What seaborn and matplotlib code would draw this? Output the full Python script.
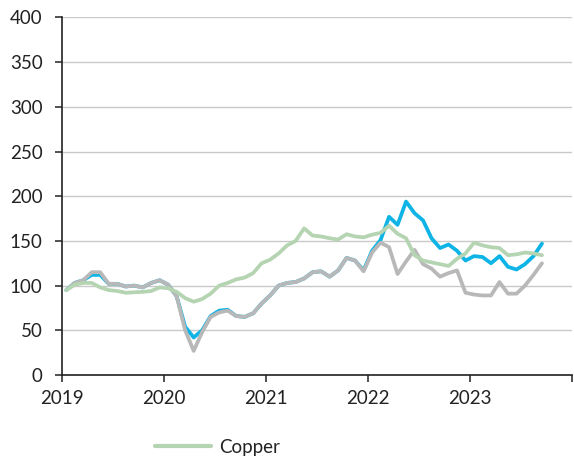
import numpy as np
import pandas as pd
import matplotlib
matplotlib.use("Agg")
import matplotlib.pyplot as plt
import seaborn as sns
from matplotlib.lines import Line2D

start_year = 2019
years = [2019, 2020, 2021, 2022, 2023]
series_names = ["Series A", "Series B", "Copper"]

series_a = [95, 103, 106, 112, 112, 102, 102, 99, 100, 98, 103, 106, 101, 88, 54, 42, 50, 66, 72, 73,
            66, 65, 69, 80, 89, 100, 103, 104, 108, 115, 116, 110, 117, 131, 128, 117, 139, 151, 177, 168,
            194, 181, 173, 153, 142, 146, 139, 128, 133, 132, 125, 133, 121, 118, 124, 133, 147]
series_b = [95, 103, 106, 115, 115, 102, 102, 99, 100, 98, 103, 106, 101, 88, 50, 27, 48, 65, 70, 72,
            66, 65, 69, 80, 89, 100, 103, 104, 108, 115, 116, 110, 117, 131, 128, 116, 137, 148, 143, 113,
            127, 140, 124, 119, 110, 114, 117, 92, 90, 89, 89, 104, 91, 91, 100, 112, 125]
copper = [95, 101, 103, 103, 98, 95, 94, 92, 92.5, 93, 94, 98, 97, 93, 86, 82, 85, 91, 100, 103,
          107, 109, 114, 125, 129, 136, 145, 150, 164, 156, 155, 153, 151.5, 157.5, 155, 154, 157, 159, 167, 158,
          153, 134, 128, 126, 124, 122, 130, 136, 148, 145, 143, 142, 134, 135, 137, 136, 134]

colors = ["#0fb4e6", "#b8b8b8", "#b4d4b2"]

n = len(copper)
t = [start_year + (i + 0.5) / 12 for i in range(n)]
df = pd.DataFrame({
    "t": t * 3,
    "value": series_a + series_b + copper,
    "series": [series_names[0]] * n + [series_names[1]] * n + [series_names[2]] * n,
})

sns.set_style("white")
plt.rcParams["font.family"] = ["Lato", "DejaVu Sans"]

fig = plt.figure(figsize=(5.74, 4.59), dpi=100)
ax = fig.add_axes([0.108, 0.183, 0.888, 0.779])

sns.lineplot(data=df, x="t", y="value", hue="series", palette=colors,
             hue_order=series_names, linewidth=2.7, ax=ax, legend=False, zorder=3)

ax.set_xlim(2019, 2024)
ax.set_ylim(0, 400)
ax.set_xticks(list(range(2019, 2025)))
ax.set_xticklabels([str(y) for y in years] + [""])
ax.set_yticks(range(0, 401, 50))
ax.yaxis.grid(True, color="#c9c9c9", linewidth=1.0, zorder=0)
ax.xaxis.grid(False)
ax.set_axisbelow(True)
for s in ["top", "right"]:
    ax.spines[s].set_visible(False)
for s in ["left", "bottom"]:
    ax.spines[s].set_color("#222222")
    ax.spines[s].set_linewidth(1.2)
ax.tick_params(axis="both", which="major", direction="out", length=5, width=1.1,
               color="#222222", labelsize=13.5, labelcolor="#222222")
ax.tick_params(axis="y", left=True, pad=9)
ax.tick_params(axis="x", bottom=True, pad=6)
ax.set_xlabel("")
ax.set_ylabel("")

handle = Line2D([0], [0], color=colors[2], linewidth=3)
fig.legend([handle], ["Copper"], loc="center left", bbox_to_anchor=(0.241, 0.026),
           frameon=False, fontsize=13.5, handlelength=3.0, handletextpad=0.4,
           labelcolor="#222222")

fig.savefig("out.png", dpi=100)
